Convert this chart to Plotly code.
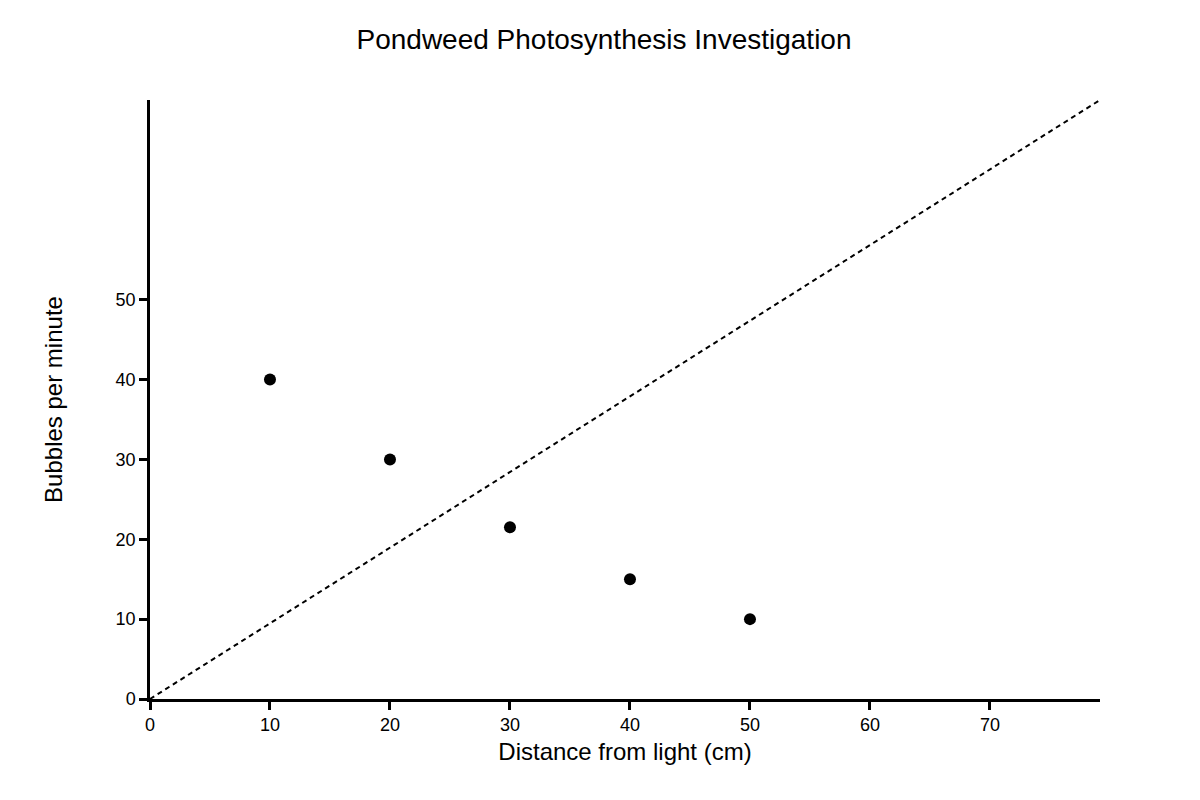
import plotly.graph_objects as go

distance_cm = [10, 20, 30, 40, 50]
bubbles_per_min = [40, 30, 21.5, 15, 10]
x_ticks = [0, 10, 20, 30, 40, 50, 60, 70]
y_ticks = [0, 10, 20, 30, 40, 50]
x_range = [0, 79.17]
y_range = [0, 75]

fig = go.Figure()
fig.add_trace(go.Scatter(
    x=distance_cm, y=bubbles_per_min, mode="markers",
    marker=dict(color="black", size=12), showlegend=False, cliponaxis=False,
))
fig.add_shape(type="line", xref="paper", yref="paper", x0=0, y0=0, x1=1, y1=1,
              line=dict(color="black", width=2, dash="5px,4px"))

fig.update_layout(
    width=1192, height=792,
    margin=dict(l=142, r=100, t=92, b=101),
    paper_bgcolor="white", plot_bgcolor="white",
    font=dict(family="Liberation Sans, Arial, sans-serif", color="black"),
    title=dict(text="Pondweed Photosynthesis Investigation", x=0.5, xanchor="center",
               y=0.96, yanchor="middle", font=dict(size=28)),
    xaxis=dict(range=x_range, tickvals=x_ticks, showgrid=False, zeroline=False,
               showline=True, linecolor="black", linewidth=2.5,
               ticks="outside", ticklen=8, tickwidth=2.5, tickcolor="black",
               tickfont=dict(size=18),
               title=dict(text="Distance from light (cm)", font=dict(size=24), standoff=9)),
    yaxis=dict(range=y_range, tickvals=y_ticks, showgrid=False, zeroline=False,
               showline=True, linecolor="black", linewidth=2.5,
               ticks="outside", ticklen=8, tickwidth=2.5, tickcolor="black",
               tickfont=dict(size=18),
               title=dict(text="Bubbles per minute", font=dict(size=24), standoff=47)),
)

fig.write_html("out.html")
